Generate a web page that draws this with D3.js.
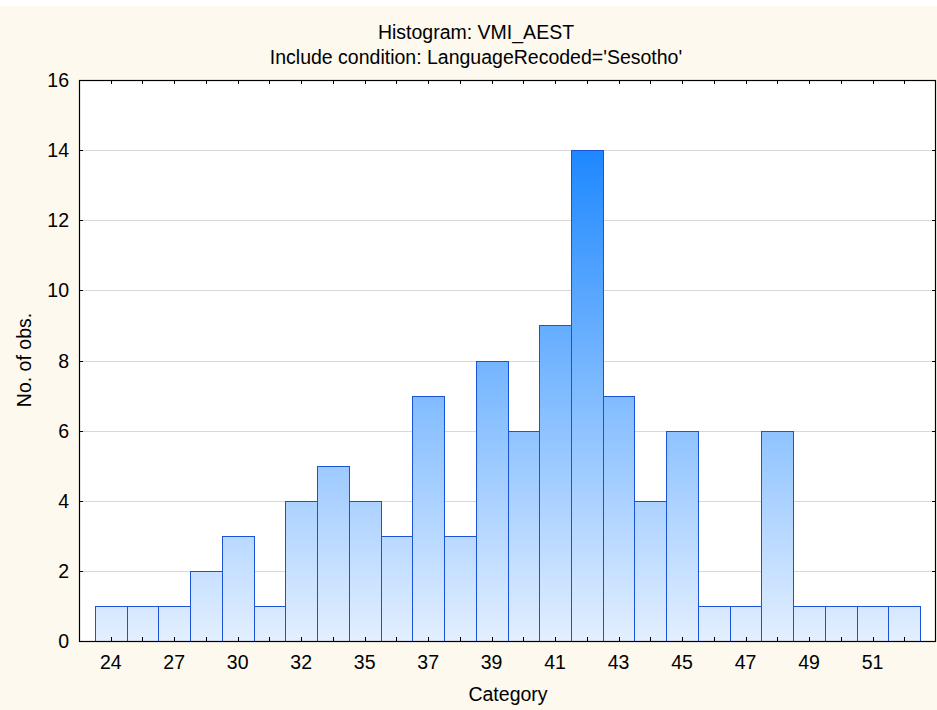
<!DOCTYPE html>
<html><head><meta charset="utf-8">
<script src="https://cdn.jsdelivr.net/npm/d3@7"></script>
<style>body{margin:0;background:#fff}svg{display:block}</style>
</head><body>
<script>
const counts = [1,1,1,2,3,1,4,5,4,3,7,3,8,6,9,14,7,4,6,1,1,6,1,1,1,1];
const tickLabels = ["24","27","30","32","35","37","39","41","43","45","47","49","51"];
const yTicks = [0,2,4,6,8,10,12,14,16];
const titleLines = ["Histogram: VMI_AEST","Include condition: LanguageRecoded='Sesotho'"];

const W=937,H=710;
const L=79,R=936,T=80,B=641;
const FONT="Liberation Sans, Arial, sans-serif";
const FS=19.5;
const svg=d3.select("body").append("svg").attr("width",W).attr("height",H);
svg.append("rect").attr("width",W).attr("height",H).attr("fill","#fff");
svg.append("rect").attr("y",6).attr("width",W).attr("height",H-6).attr("fill","#fdf9ee");

const x=d3.scaleLinear().domain([-0.5,counts.length+0.5]).range([L,R]);
const y=d3.scaleLinear().domain([0,16]).range([B,T]);

const defs=svg.append("defs");
const g=defs.append("linearGradient").attr("id","bg").attr("gradientUnits","userSpaceOnUse")
  .attr("x1",0).attr("x2",0).attr("y1",y(0)).attr("y2",y(14));
g.append("stop").attr("offset","0%").attr("stop-color","#e3efff");
g.append("stop").attr("offset","100%").attr("stop-color","#1e88ff");

svg.append("rect").attr("x",L).attr("y",T).attr("width",R-L).attr("height",B-T).attr("fill","#fff");

// grid
svg.append("g").selectAll("line").data(yTicks.filter(d=>d>0&&d<16)).join("line")
  .attr("x1",L).attr("x2",R).attr("y1",d=>Math.round(y(d))+0.5).attr("y2",d=>Math.round(y(d))+0.5)
  .attr("stroke","#d8d8d8").attr("stroke-width",1);

// bars
svg.append("g").selectAll("rect").data(counts).join("rect")
  .attr("x",(d,i)=>Math.round(x(i))+0.5).attr("width",(d,i)=>Math.round(x(i+1))-Math.round(x(i)))
  .attr("y",d=>Math.round(y(d))+0.5).attr("height",d=>Math.round(y(0))-Math.round(y(d)))
  .attr("fill","url(#bg)").attr("stroke","#1a52d8").attr("stroke-width",1);

// frame
svg.append("rect").attr("x",L+0.5).attr("y",T+0.5).attr("width",R-L-1).attr("height",B-T)
  .attr("fill","none").attr("stroke","#000").attr("stroke-width",1.2);

// x axis
const xt=counts.map((d,i)=>i+0.5);
const xAxis=svg.append("g");
xAxis.selectAll("line.b").data(xt).join("line").attr("class","b")
  .attr("x1",d=>Math.round(x(d))+0.5).attr("x2",d=>Math.round(x(d))+0.5).attr("y1",B).attr("y2",B-4).attr("stroke","#000");
xAxis.selectAll("line.t").data(xt).join("line").attr("class","t")
  .attr("x1",d=>Math.round(x(d))+0.5).attr("x2",d=>Math.round(x(d))+0.5).attr("y1",T).attr("y2",T+4).attr("stroke","#000");
xAxis.selectAll("text").data(tickLabels).join("text")
  .attr("x",(d,i)=>x(i*2+0.5)).attr("y",669).attr("text-anchor","middle")
  .attr("font-family",FONT).attr("font-size",FS).attr("fill","#000").text(d=>d);

// y axis
const yAxis=svg.append("g");
yAxis.selectAll("line.l").data(yTicks).join("line").attr("class","l")
  .attr("x1",L).attr("x2",L+4).attr("y1",d=>Math.round(y(d))+0.5).attr("y2",d=>Math.round(y(d))+0.5).attr("stroke","#000");
yAxis.selectAll("line.r").data(yTicks).join("line").attr("class","r")
  .attr("x1",R-4).attr("x2",R).attr("y1",d=>Math.round(y(d))+0.5).attr("y2",d=>Math.round(y(d))+0.5).attr("stroke","#000");
yAxis.selectAll("text").data(yTicks).join("text")
  .attr("x",69).attr("y",d=>y(d)+7).attr("text-anchor","end")
  .attr("font-family",FONT).attr("font-size",FS).attr("fill","#000").text(d=>d);

// titles
svg.selectAll("text.title").data(titleLines).join("text").attr("class","title")
  .attr("x",476).attr("y",(d,i)=>39+i*25).attr("text-anchor","middle")
  .attr("font-family",FONT).attr("font-size",FS).attr("fill","#000").text(d=>d);

svg.append("text").attr("x",508).attr("y",701).attr("text-anchor","middle")
  .attr("font-family",FONT).attr("font-size",FS).text("Category");
svg.append("text").attr("transform","translate(31,360) rotate(-90)").attr("text-anchor","middle")
  .attr("font-family",FONT).attr("font-size",FS).text("No. of obs.");
</script>
</body></html>
